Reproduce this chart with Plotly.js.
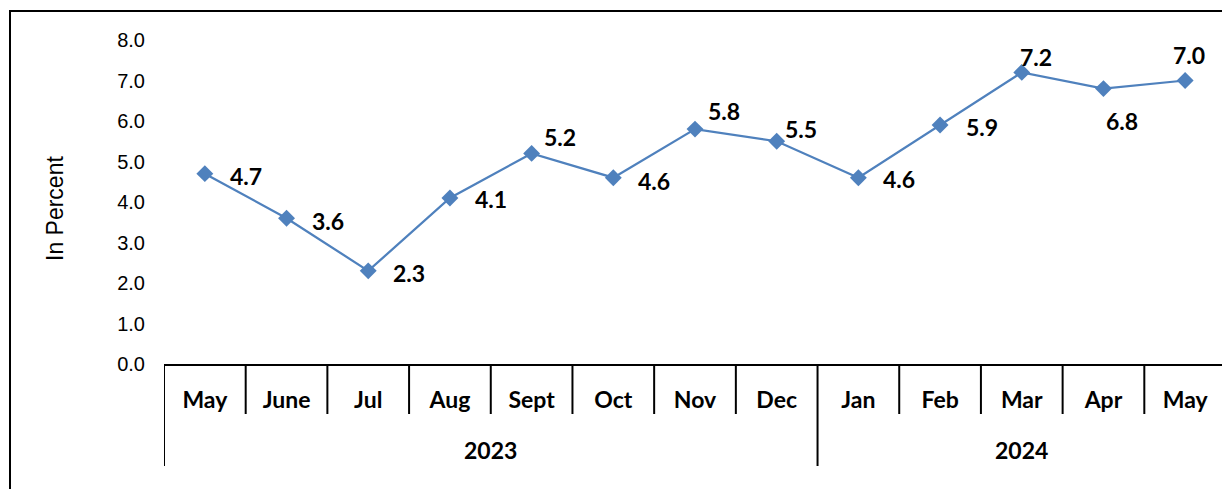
<!DOCTYPE html>
<html>
<head>
<meta charset="utf-8">
<script src="https://cdn.plot.ly/plotly-3.0.1.min.js"></script>
<style>
  html, body { margin: 0; padding: 0; overflow: hidden; background: #ffffff; }
  #frame { position: absolute; left: 9px; top: 10px; width: 2000px; height: 2000px;
           border-left: 2px solid #000; border-top: 2px solid #000; pointer-events: none; }
  #chart { position: absolute; left: 0; top: 0; }
</style>
</head>
<body>
<div id="frame"></div>
<div id="chart"></div>
<script>
// ---- data ----
var months = ["May", "June", "Jul", "Aug", "Sept", "Oct", "Nov", "Dec", "Jan", "Feb", "Mar", "Apr", "May"];
var years  = ["2023", "2023", "2023", "2023", "2023", "2023", "2023", "2023", "2024", "2024", "2024", "2024", "2024"];
var values = [4.7, 3.6, 2.3, 4.1, 5.2, 4.6, 5.8, 5.5, 4.6, 5.9, 7.2, 6.8, 7.0];
var yTicks = [0, 1, 2, 3, 4, 5, 6, 7, 8];
var yTitle = "In Percent";

// ---- styling: label offsets in screen px [xshift, yshift(up)] ----
var labelShift = [[41,-2],[41,-3],[41,-2],[41,-1],[28,16],[41,-3],[29,18],[24,12],[41,-1],[42,-2],[14,15],[19,-32],[4,26]];

var W = 1240, H = 489, ML = 164, MR = 14, MT = 40, MB = 125;
var plotH = H - MT - MB, plotW = W - ML - MR;
function pyPaper(px) { return -(px - (H - MB)) / plotH; }
function pxPaper(px) { return (px - ML) / plotW; }

var idx = months.map(function (_, i) { return i; });

var trace = {
  x: idx, y: values, type: "scatter", mode: "lines+markers",
  line: { color: "#4F81BD", width: 2.25 },
  marker: { symbol: "diamond", size: 13, color: "#4F81BD" },
  cliponaxis: false, hoverinfo: "skip"
};

var boldFont = { family: "Lato, 'Open Sans', sans-serif", size: 23, color: "#000", weight: "bold" };
var plainFont = { family: "'Liberation Sans', Arial, sans-serif", size: 20, color: "#000" };

var annotations = values.map(function (v, i) {
  return { x: i, y: v, xref: "x", yref: "y", text: v.toFixed(1), showarrow: false,
           xshift: labelShift[i][0], yshift: labelShift[i][1],
           font: boldFont, xanchor: "center", yanchor: "middle" };
});

// year group labels and dividers
var groups = [];
years.forEach(function (y, i) {
  if (!groups.length || groups[groups.length - 1].name !== y) groups.push({ name: y, start: i, end: i });
  else groups[groups.length - 1].end = i;
});
groups.forEach(function (g) {
  annotations.push({ x: (g.start + g.end) / 2, y: pyPaper(450), xref: "x", yref: "paper",
    text: g.name, showarrow: false, font: boldFont, xanchor: "center", yanchor: "middle" });
});

// y-axis title
annotations.push({ x: pxPaper(55), y: pyPaper(209), xref: "paper", yref: "paper", text: yTitle,
  textangle: -90, showarrow: false, xanchor: "center", yanchor: "middle",
  font: { family: "'Liberation Sans', Arial, sans-serif", size: 23, color: "#000" } });

var shapes = [];
for (var b = 0; b <= months.length; b++) {
  var tall = (b === 0 || b === months.length || years[b] !== years[b - 1]);
  shapes.push({ type: "line", xref: "x", yref: "paper", x0: b - 0.5, x1: b - 0.5,
    y0: 0, y1: pyPaper(tall ? 466 : 414), line: { color: "#000", width: 2 } });
}

var layout = {
  width: W, height: H,
  margin: { l: ML, r: MR, t: MT, b: MB },
  paper_bgcolor: "rgba(0,0,0,0)", plot_bgcolor: "rgba(0,0,0,0)",
  showlegend: false,
  xaxis: {
    range: [-0.5, months.length - 0.5], tickvals: idx, ticktext: months,
    showgrid: false, zeroline: false, showline: true, linecolor: "#000", linewidth: 2,
    ticks: "", ticklabelstandoff: 14, tickfont: boldFont, fixedrange: true
  },
  yaxis: {
    range: [0, 8], tickvals: yTicks, ticktext: yTicks.map(function (t) { return t.toFixed(1); }),
    showgrid: false, zeroline: false, showline: false, ticks: "",
    ticklabelstandoff: 18, tickfont: plainFont, fixedrange: true
  },
  annotations: annotations,
  shapes: shapes
};

Plotly.newPlot("chart", [trace], layout, { displayModeBar: false, staticPlot: true });
</script>
</body>
</html>
